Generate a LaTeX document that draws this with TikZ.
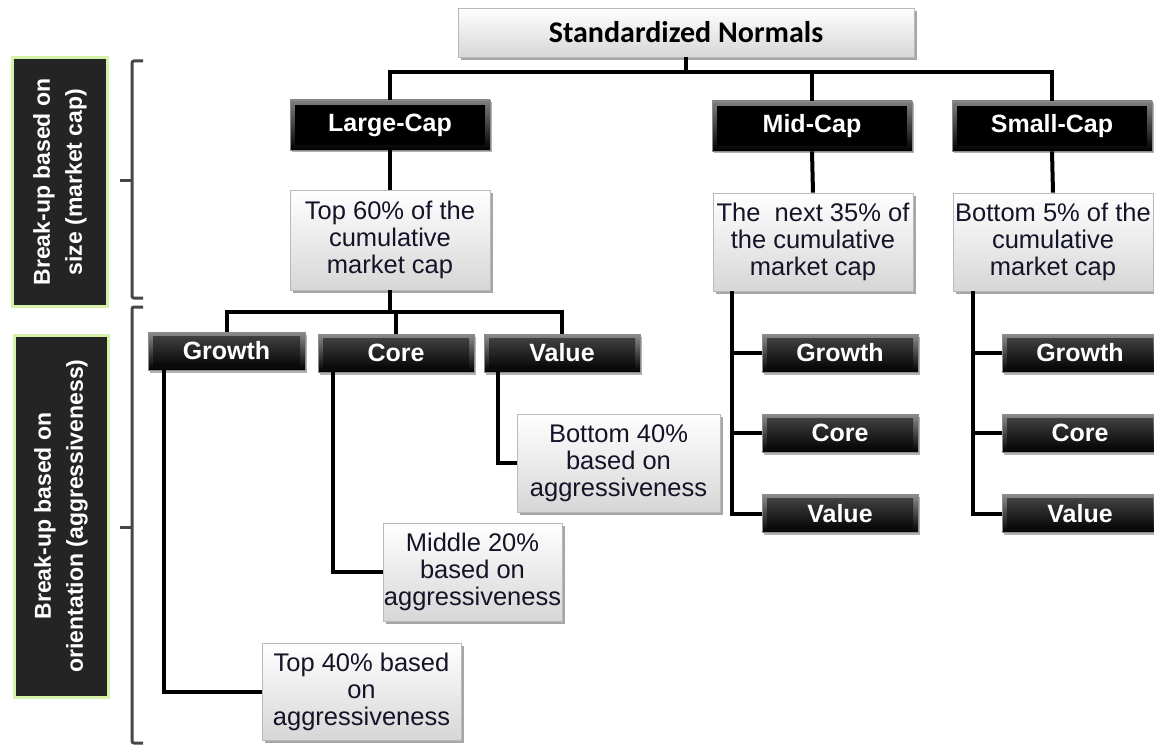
\documentclass[tikz,border=0pt]{standalone}
\usepackage{fontspec}
\setmainfont{Liberation Sans}
\newfontfamily\calib{Carlito}
\usetikzlibrary{shadows,calc}
\definecolor{sidefill}{HTML}{242424}
\definecolor{sideglow}{HTML}{D6F2A8}
\definecolor{txtdark}{HTML}{141428}
\tikzset{
  lightbox/.style={draw=gray!55, line width=0.6pt, top color=white, bottom color=gray!32,
    drop shadow={shadow xshift=2.5pt, shadow yshift=-3pt, opacity=0.35, fill=black},
    align=center, font=\fontsize{25.5}{27}\selectfont, text=txtdark, inner sep=0pt},
  capbox/.style={draw=black!45, line width=0.8pt, top color=black!50, bottom color=black,
    drop shadow={shadow xshift=2pt, shadow yshift=-2.5pt, opacity=0.3, fill=black},
    text=white, font=\bfseries\fontsize{25}{27}\selectfont, inner sep=0pt,
    minimum width=200pt, minimum height=50pt,
    path picture={\fill[black] ([shift={(5pt,-5pt)}]path picture bounding box.north west)
      rectangle ([shift={(-5pt,5pt)}]path picture bounding box.south east);}},
  subbox/.style={draw=black!45, line width=0.8pt, top color=black!45, bottom color=black,
    drop shadow={shadow xshift=2pt, shadow yshift=-2.5pt, opacity=0.3, fill=black},
    text=white, font=\bfseries\fontsize{25}{27}\selectfont, inner sep=0pt,
    minimum width=156pt, minimum height=38pt,
    path picture={\shade[top color=black!72, bottom color=black] ([shift={(5pt,-4pt)}]path picture bounding box.north west)
      rectangle ([shift={(-5pt,4pt)}]path picture bounding box.south east);}},
  sidebox/.style={fill=sidefill, draw=sideglow, line width=3pt, text=white, rotate=90,
    font=\bfseries\fontsize{23}{32}\selectfont, align=center, inner sep=0pt},
  conn/.style={draw=black, line width=4pt},
  brack/.style={draw=black!72, line width=3pt, rounded corners=2pt},
}
\begin{document}
\begin{tikzpicture}[x=1pt,y=-1pt]
\useasboundingbox (0,0) rectangle (1154,746);

% side labels
\node[sidebox, minimum width=248pt, minimum height=95pt] (side1) at (60,182)
  {Break-up based on\\size (market cap)};
\node[sidebox, minimum width=362pt, minimum height=94pt] (side2) at (61,516)
  {Break-up based on\\orientation (aggressiveness)};

% brackets
\draw[brack] (143,61) -- (132,61) -- (132,298) -- (143,298);
\draw[brack] (132,181) -- (120,181);
\draw[brack] (143,307) -- (132,307) -- (132,743) -- (143,743);
\draw[brack] (132,527) -- (120,527);

% top
\node[lightbox, minimum width=456pt, minimum height=49pt, font=\calib\bfseries\fontsize{30}{32}\selectfont, text=black] (top) at (686,32.5) {Standardized Normals};

% caps
\node[capbox] (large) at (390,125) {Large-Cap};
\node[capbox] (mid) at (812,126) {Mid-Cap};
\node[capbox] (small) at (1052,126) {Small-Cap};

% descriptions
\node[lightbox, minimum width=200pt, minimum height=100pt] (t60) at (390,240) {Top 60\% of the\\cumulative\\market cap};
\node[lightbox, minimum width=200pt, minimum height=98pt] (t35) at (813,242) {The \ next 35\% of\\the cumulative\\market cap};
\node[lightbox, minimum width=200pt, minimum height=98pt] (t5) at (1053,242) {Bottom 5\% of the\\cumulative\\market cap};

% large-cap styles
\node[subbox, minimum width=157pt] (lg) at (226.5,351) {Growth};
\node[subbox] (lc) at (396,353) {Core};
\node[subbox] (lv) at (562,353) {Value};

\node[lightbox, minimum width=203pt, minimum height=98pt] (b40) at (618.5,463) {Bottom 40\%\\based on\\aggressiveness};
\node[lightbox, minimum width=179pt, minimum height=98pt] (m20) at (472.5,572) {Middle 20\%\\based on\\aggressiveness};
\node[lightbox, minimum width=199pt, minimum height=97pt] (t40) at (361.5,691.5) {Top 40\% based\\on\\aggressiveness};

% mid-cap styles
\node[subbox] (mg) at (840,353) {Growth};
\node[subbox] (mc) at (840,433) {Core};
\node[subbox] (mv) at (840,513.5) {Value};
% small-cap styles
\node[subbox] (sg) at (1080,353) {Growth};
\node[subbox] (sc) at (1080,433) {Core};
\node[subbox] (sv) at (1080,513.5) {Value};

% connectors: top level
\coordinate (bus) at (686,72);
\draw[conn] (top.south) -- (top.south |- bus);
\draw[conn] (large.north) |- (bus) -| (small.north);
\draw[conn] (mid.north) -- (mid.north |- bus);
\draw[conn] (large.south) -- (t60.north);
\draw[conn] (mid.south) -- (t35.north);
\draw[conn] (small.south) -- (t5.north);

% large-cap split
\coordinate (bus2) at (390,312);
\draw[conn] (t60.south) -- (t60.south |- bus2);
\draw[conn] (lg.north) |- (bus2) -| (lv.north);
\draw[conn] (lc.north) -- (lc.north |- bus2);

\draw[conn] ([xshift=16pt]lg.south west) |- (t40.west);
\draw[conn] ([xshift=15pt]lc.south west) |- (m20.west);
\draw[conn] ([xshift=14pt]lv.south west) |- (b40.west);

% mid-cap split
\coordinate (mspine) at ([xshift=19pt]t35.south west);
\draw[conn] (mspine) |- (mv.west);
\draw[conn] (mg.west) -- (mg.west -| mspine);
\draw[conn] (mc.west) -- (mc.west -| mspine);
% small-cap split
\coordinate (sspine) at ([xshift=20pt]t5.south west);
\draw[conn] (sspine) |- (sv.west);
\draw[conn] (sg.west) -- (sg.west -| sspine);
\draw[conn] (sc.west) -- (sc.west -| sspine);
\end{tikzpicture}
\end{document}
